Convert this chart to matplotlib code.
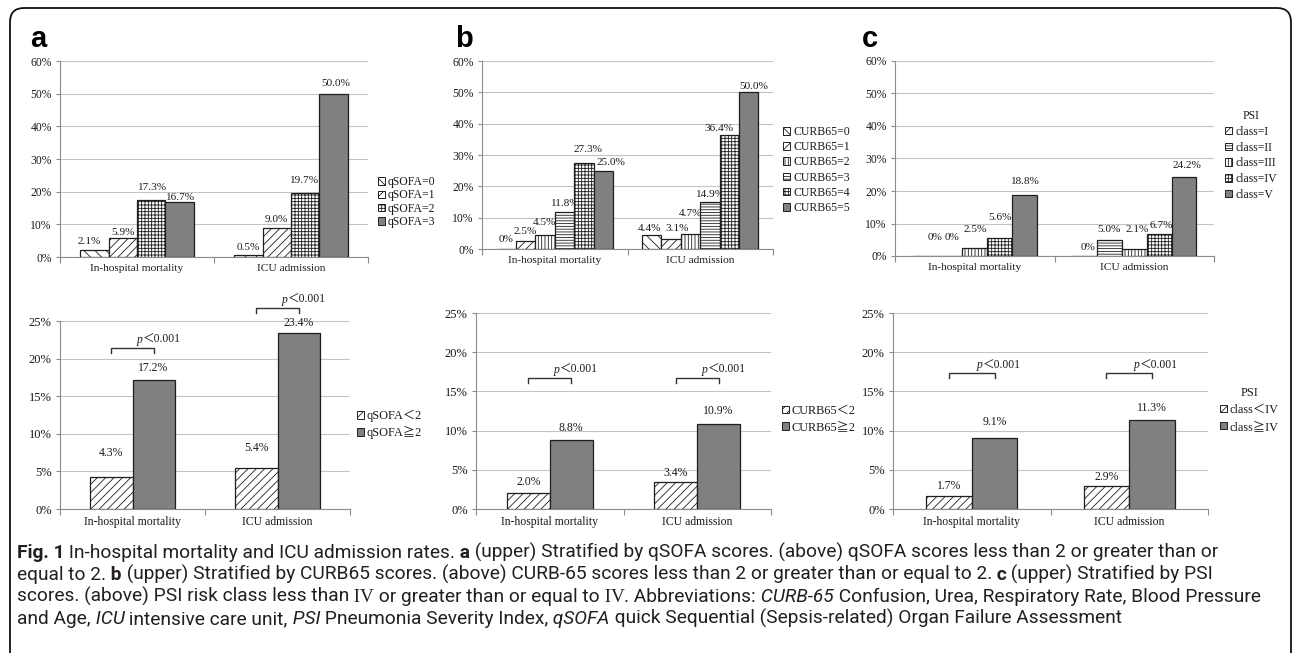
import matplotlib
matplotlib.use('Agg')
import matplotlib.pyplot as plt
from matplotlib.patches import Patch, FancyBboxPatch
from matplotlib.transforms import IdentityTransform
from matplotlib.text import Annotation
import numpy as np

# ---------------- data ----------------
categories = ['In-hospital mortality', 'ICU admission']

qsofa_labels = ['qSOFA=0', 'qSOFA=1', 'qSOFA=2', 'qSOFA=3']
qsofa_hosp = [2.1, 5.9, 17.3, 16.7]
qsofa_icu = [0.5, 9.0, 19.7, 50.0]

curb_labels = ['CURB65=0', 'CURB65=1', 'CURB65=2', 'CURB65=3', 'CURB65=4', 'CURB65=5']
curb_hosp = [0, 2.5, 4.5, 11.8, 27.3, 25.0]
curb_icu = [4.4, 3.1, 4.7, 14.9, 36.4, 50.0]

psi_labels = ['class=I', 'class=II', 'class=III', 'class=IV', 'class=V']
psi_hosp = [0, 0, 2.5, 5.6, 18.8]
psi_icu = [0, 5.0, 2.1, 6.7, 24.2]

qsofa2_labels = ['qSOFA＜2', 'qSOFA≧2']
qsofa2_hosp = [4.3, 17.2]
qsofa2_icu = [5.4, 23.4]

curb2_labels = ['CURB65＜2', 'CURB65≧2']
curb2_hosp = [2.0, 8.8]
curb2_icu = [3.4, 10.9]

psi2_labels = ['class＜IV', 'class≧IV']
psi2_hosp = [1.7, 9.1]
psi2_icu = [2.9, 11.3]

p_label = '＜0.001'
upper_ticks = [0, 10, 20, 30, 40, 50, 60]
lower_ticks = [0, 5, 10, 15, 20, 25]

# ---------------- style ----------------
W, H = 1292, 653
SERIF = ['Liberation Serif', 'Noto Sans CJK SC', 'DejaVu Sans']
CAPF = ['Roboto', 'DejaVu Sans']
plt.rcParams['font.family'] = SERIF
plt.rcParams['hatch.linewidth'] = 0.6
plt.rcParams['hatch.color'] = '#111111'
TXT = '#1a1a1a'
GRAY = '#808080'
EDGE = '#1e1e1e'
AXC = '#8c8c8c'
GRID = '#c4c4c4'

BK = '\\\\\\'      # back diagonal
FW = '////'        # forward diagonal
GR = '+++++'       # fine grid
VL = '|||||'       # vertical lines
HL = '------'      # horizontal lines
SOLID = None

fig = plt.figure(figsize=(W / 100, H / 100), dpi=100)


def make_ax(L, T, R, B):
    return fig.add_axes([L / W, 1 - B / H, (R - L) / W, (B - T) / H])


def fmt(v):
    return '0%' if v == 0 else f'{v:.1f}%'


def panel(rect, hosp, icu, hatches, gw, ymax, ticks, dy, dx, fs):
    ax = make_ax(*rect)
    n = len(hosp)
    bw = gw / n
    base = np.arange(len(categories))
    for i in range(n):
        x = base - gw / 2 + (i + 0.5) * bw
        vals = [hosp[i], icu[i]]
        h = hatches[i]
        ax.bar(x, vals, bw, facecolor=GRAY if h is None else 'white',
               hatch=h, edgecolor=EDGE, linewidth=0.9, zorder=3)
        for c in range(len(categories)):
            ax.annotate(fmt(vals[c]), xy=(x[c], vals[c]),
                        xytext=(dx[c][i], dy[c][i]), textcoords='offset pixels',
                        ha='center', va='center', fontsize=fs['val'], color=TXT)
    ax.set_xlim(-0.5, len(categories) - 0.5)
    ax.set_ylim(0, ymax)
    ax.set_yticks(ticks)
    ax.set_yticklabels([f'{t}%' for t in ticks], fontsize=fs['tick'], color=TXT)
    ax.set_xticks(base)
    ax.set_xticklabels(categories, fontsize=fs['x'], color=TXT)
    ax.set_xticks(np.arange(len(categories) + 1) - 0.5, minor=True)
    ax.tick_params(axis='x', which='major', length=0, pad=fs['xpad'])
    ax.tick_params(axis='x', which='minor', length=4, color=AXC, width=0.8)
    ax.tick_params(axis='y', length=3, color=AXC, width=0.8, pad=3)
    ax.grid(axis='y', color=GRID, linewidth=0.8)
    ax.set_axisbelow(True)
    for s in ['top', 'right']:
        ax.spines[s].set_visible(False)
    for s in ['left', 'bottom']:
        ax.spines[s].set_color(AXC)
        ax.spines[s].set_linewidth(0.8)
    return ax, bw


def legend(ax, labels, hatches, x, y, fs, ls, title=None, hs=0.6):
    handles = [Patch(facecolor=GRAY if h is None else 'white', hatch=h,
                     edgecolor=EDGE, linewidth=0.7) for h in hatches]
    leg = ax.legend(handles, labels, loc='upper left',
                    bbox_to_anchor=(x / W, 1 - y / H), bbox_transform=fig.transFigure,
                    frameon=False, borderpad=0, borderaxespad=0,
                    handlelength=hs, handleheight=hs, handletextpad=0.25,
                    labelspacing=ls, fontsize=fs, title=title, title_fontsize=fs)
    for t in leg.get_texts():
        t.set_color(TXT)
    if title:
        leg.get_title().set_color(TXT)
    return leg


def bracket(ax, bw, heights, tick_px, pfs, px_per_unit):
    for c, yb in enumerate(heights):
        x1, x2 = c - bw / 2, c + bw / 2
        d = tick_px / px_per_unit
        ax.plot([x1, x1, x2, x2], [yb - d, yb, yb, yb - d], color='#333333',
                linewidth=1.0, clip_on=False, zorder=4)
        tp = ax.annotate('p', xy=(c + 0.03, yb), xytext=(0, 2),
                         textcoords='offset pixels', ha='left', va='bottom',
                         fontsize=pfs, style='italic', color=TXT,
                         annotation_clip=False)
        ax.annotate(p_label, xy=(1, 0), xycoords=tp, ha='left', va='bottom',
                    fontsize=pfs, color=TXT, annotation_clip=False)


UP = dict(val=8.1, tick=8.4, x=8.2, xpad=5)
LO = dict(val=8.5, tick=9.0, x=8.5, xpad=5)

# ---- upper panels ----
axA1, _ = panel((60, 61, 368, 257), qsofa_hosp, qsofa_icu, [BK, FW, GR, SOLID],
                0.74, 60, upper_ticks,
                dy=[[9, 5.7, 12.5, 5.4], [7.4, 8.6, 12.6, 9.7]],
                dx=[[-5, 0, 0, 0], [0, 0, -2, 2]], fs=UP)
legend(axA1, qsofa_labels, [BK, FW, GR, SOLID], 378, 176, 8.5, 0.12)

axB1, _ = panel((482, 61, 773, 249), curb_hosp, curb_icu, [BK, FW, VL, HL, GR, SOLID],
                0.8, 60, upper_ticks,
                dy=[[9, 10, 12, 9, 13.5, 7.7], [7, 11, 21, 8, 6, 6]],
                dx=[[0, 0, 0, 0, 4, 8], [-2, 6, 0, 0, -10, 5]], fs=UP)
legend(axB1, curb_labels, [BK, FW, VL, HL, GR, SOLID], 783, 126, 8.5, 0.27)

axC1, _ = panel((895, 61, 1214, 256), psi_hosp, psi_icu, [FW, HL, VL, GR, SOLID],
                0.78, 60, upper_ticks,
                dy=[[18, 18, 18, 20, 13], [8, 10.5, 20, 9, 12]],
                dx=[[10, 2, 0, 0, 0], [4, 0, 3, 2, 3]], fs=UP)
legend(axC1, psi_labels, [FW, HL, VL, GR, SOLID], 1225, 110, 8.5, 0.32, title='PSI')

# ---- lower panels ----
axA2, bwA = panel((60, 321, 350, 509), qsofa2_hosp, qsofa2_icu, [FW, SOLID],
                  0.58, 25, lower_ticks,
                  dy=[[23.5, 11.6], [20, 10]], dx=[[0, 0], [0, 0]], fs=LO)
legend(axA2, qsofa2_labels, [FW, SOLID], 357, 410, 8.8, 0.32, hs=0.55)
bracket(axA2, bwA, [21.4, 26.7], 5, 8.4, 7.52)

axB2, bwB = panel((476, 313, 771, 509), curb2_hosp, curb2_icu, [FW, SOLID],
                  0.58, 25, lower_ticks,
                  dy=[[11, 12], [9, 12.5]], dx=[[0, 0], [0, 0]], fs=LO)
legend(axB2, curb2_labels, [FW, SOLID], 782, 405, 8.8, 0.35, hs=0.55)
bracket(axB2, bwB, [16.7, 16.7], 5, 8.4, 7.84)

axC2, bwC = panel((893, 313, 1208, 509), psi2_hosp, psi2_icu, [FW, SOLID],
                  0.58, 25, lower_ticks,
                  dy=[[10, 15.7], [9, 12]], dx=[[0, 0], [0, 0]], fs=LO)
legend(axC2, psi2_labels, [FW, SOLID], 1220, 387, 8.8, 0.4, title='PSI', hs=0.55)
bracket(axC2, bwC, [17.3, 17.3], 5, 8.4, 7.84)

# ---- panel letters ----
for letter, x in [('a', 30), ('b', 455), ('c', 862)]:
    fig.text(x / W, 1 - 47 / H, letter, fontsize=21, fontweight='bold',
             family=['Liberation Sans', 'DejaVu Sans'], va='baseline', ha='left')

# ---- rounded frame ----
frame = FancyBboxPatch((10, -30), 1281, H - 8 + 30,
                       boxstyle='round,pad=0,rounding_size=14',
                       transform=IdentityTransform(), facecolor='none',
                       edgecolor='#111111', linewidth=1.3)
fig.add_artist(frame)

# ---- caption ----
CAP = '#231f20'
cap_lines = [
    [('Fig. 1', 'b'), (' In-hospital mortality and ICU admission rates.', 'n'), (' a', 'b'),
     (' (upper) Stratified by qSOFA scores. (above) qSOFA scores less than 2 or greater than or', 'n')],
    [('equal to 2.', 'n'), (' b', 'b'),
     (' (upper) Stratified by CURB65 scores. (above) CURB-65 scores less than 2 or greater than or equal to 2.', 'n'),
     (' c', 'b'), (' (upper) Stratified by PSI', 'n')],
    [('scores. (above) PSI risk class less than', 'n'), (' IV', 's'),
     (' or greater than or equal to', 'n'), (' IV', 's'), ('. Abbreviations:', 'n'),
     (' CURB-65', 'i'), (' Confusion, Urea, Respiratory Rate, Blood Pressure', 'n')],
    [('and Age,', 'n'), (' ICU', 'i'), (' intensive care unit,', 'n'), (' PSI', 'i'),
     (' Pneumonia Severity Index,', 'n'), (' qSOFA', 'i'),
     (' quick Sequential (Sepsis-related) Organ Failure Assessment', 'n')],
]
baselines = [558, 580, 602, 624]
cap_x0 = 17
cap_fs = 11.5
cap_texts = []
line_last = []


def style_kw(s):
    if s == 'b':
        return dict(family=CAPF, fontweight='bold')
    if s == 'i':
        return dict(family=CAPF, style='italic')
    if s == 's':
        return dict(family=SERIF)
    return dict(family=CAPF)


for segs, yb in zip(cap_lines, baselines):
    prev = None
    for txt, s in segs:
        if prev is None:
            t = fig.text(cap_x0 / W, 1 - yb / H, txt, fontsize=cap_fs, color=CAP,
                         va='baseline', ha='left', **style_kw(s))
        else:
            t = Annotation(txt, xy=(1, 1 - yb / H), xycoords=(prev, 'figure fraction'),
                           fontsize=cap_fs, color=CAP, va='baseline', ha='left',
                           **style_kw(s))
            fig.add_artist(t)
        cap_texts.append(t)
        prev = t
    line_last.append(prev)

fig.canvas.draw()
r = fig.canvas.get_renderer()
right = line_last[0].get_window_extent(r).x1
scale = (1229 - cap_x0) / (right - cap_x0)
for t in cap_texts:
    t.set_fontsize(t.get_fontsize() * scale)

fig.savefig('out.png', dpi=100, facecolor='white')
